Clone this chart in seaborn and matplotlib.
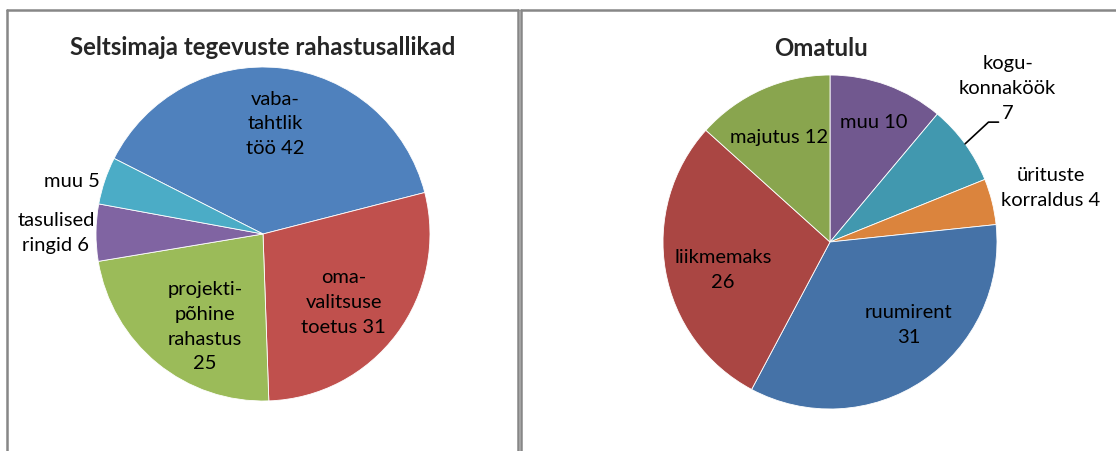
import matplotlib.pyplot as plt
import seaborn as sns
import numpy as np
from matplotlib.lines import Line2D

# data
left_title = 'Seltsimaja tegevuste rahastusallikad'
left_labels = ['vaba-\ntahtlik\ntöö', 'oma-\nvalitsuse\ntoetus', 'projekti-\npõhine\nrahastus\n',
               'tasulised\nringid', 'muu']
left_values = [42, 31, 25, 6, 5]

right_title = 'Omatulu'
right_labels = ['muu', 'kogu-\nkonnaköök\n', 'ürituste\nkorraldus', 'ruumirent\n', 'liikmemaks\n', 'majutus']
right_values = [10, 7, 4, 31, 26, 12]

# styling
left_colors = ['#4F81BD', '#C0504D', '#9BBB59', '#8064A2', '#4BACC6']
right_colors = ['#71588F', '#4198AF', '#DB843D', '#4572A7', '#AA4643', '#89A54E']
left_label_r = [0.67, 0.63, 0.65, 1.24, 1.19]
left_label_shift = [0, -3, 7, 0, 3]
right_label_r = [0.77, 1.41, 1.36, 0.68, 0.66, 0.70]
right_label_shift = [0, 5, 0, 10, 4, 2]

sns.set_style('white')
plt.rcParams['font.family'] = ['Lato', 'DejaVu Sans']

W, H = 1116, 452
fig = plt.figure(figsize=(W / 100, H / 100), dpi=100)


def pie_axes(cx, cy, r):
    return fig.add_axes([(cx - r) / W, (H - cy - r) / H, 2 * r / W, 2 * r / H])


def draw_pie(ax, labels, values, colors, startangle, label_r, label_shift):
    wedges, _ = ax.pie(values, colors=colors, startangle=startangle, counterclock=False,
                       radius=1, wedgeprops=dict(linewidth=0.6, edgecolor='white'))
    ax.set_xlim(-1, 1)
    ax.set_ylim(-1, 1)
    ax.set_aspect('auto')
    ax.axis('off')
    mids = []
    for w, lab, val, rr, sh in zip(wedges, labels, values, label_r, label_shift):
        mid = (w.theta1 + w.theta2) / 2
        a = np.deg2rad(mid + sh)
        x, y = rr * np.cos(a), rr * np.sin(a)
        if lab.endswith('\n'):
            text = f'{lab}{val}'
        else:
            text = f'{lab} {val}'
        ax.text(x, y, text, ha='center', va='center', fontsize=14.5,
                linespacing=1.55, color='black')
        mids.append(np.deg2rad(mid))
    return mids


# left pie
ax1 = pie_axes(263, 235, 167)
draw_pie(ax1, left_labels, left_values, left_colors, 153.1,
         left_label_r, left_label_shift)
fig.text(263 / W, 1 - 48 / H, left_title, ha='center', va='center',
         fontsize=17.3, fontweight='bold')

# right pie
ax2 = pie_axes(830, 243, 167)
mids = draw_pie(ax2, right_labels, right_values, right_colors, 90,
                right_label_r, right_label_shift)
fig.text(821 / W, 1 - 49 / H, right_title, ha='center', va='center',
         fontsize=17.3, fontweight='bold')

# leader line for kogukonnaköök
x0, y0 = np.cos(mids[1]), np.sin(mids[1])
ax2.add_line(Line2D([x0, x0 + 0.14, x0 + 0.2], [y0, y0 + 0.13, y0 + 0.13],
                    color='black', lw=1.2, clip_on=False))

# panel frames
gray = '#878787'
for xs, ys in [([7, 7], [452, 11]), ([7, 518], [11, 11]), ([518, 518], [11, 452]),
               ([521, 521], [452, 11]), ([521, 1116], [11, 11])]:
    fig.add_artist(Line2D([x / W for x in xs], [1 - y / H for y in ys],
                          color=gray, lw=1.8, transform=fig.transFigure))

fig.savefig('out.png', dpi=100)
